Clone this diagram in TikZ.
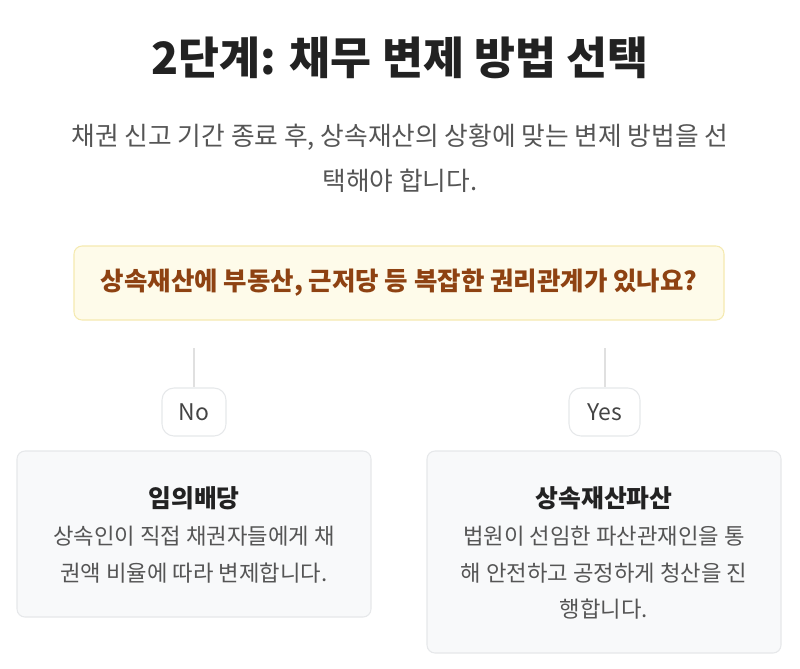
\documentclass[tikz,border=0pt]{standalone}
\usepackage{fontspec}
\setmainfont{Noto Sans CJK KR}
\definecolor{titlec}{HTML}{222222}
\definecolor{subc}{HTML}{555555}
\definecolor{qfill}{HTML}{FEFBEA}
\definecolor{qdraw}{HTML}{F5EAB0}
\definecolor{qtext}{HTML}{8E4212}
\definecolor{rfill}{HTML}{F8F9FA}
\definecolor{rdraw}{HTML}{E6E8EA}
\definecolor{linec}{HTML}{E0E0E0}
\definecolor{lblc}{HTML}{444444}
\tikzset{
  qbox/.style={draw=qdraw, fill=qfill, line width=0.8pt, rounded corners=6pt, minimum width=487.5pt, minimum height=55.5pt, inner sep=0pt},
  lbl/.style={draw=rdraw, fill=white, line width=0.8pt, rounded corners=9pt, minimum height=36pt, inner sep=0pt, font=\fontsize{17.2}{20}\selectfont, text=lblc},
  resbox/.style={draw=rdraw, fill=rfill, line width=0.8pt, rounded corners=6pt, minimum width=265.5pt, inner sep=0pt},
  conn/.style={draw=linec, line width=1.5pt},
  rtitle/.style={font=\fontsize{18.6}{22}\selectfont\bfseries, text=titlec, inner sep=0pt},
  rdesc/.style={font=\fontsize{16.7}{20}\selectfont, text=subc, inner sep=0pt},
}
\begin{document}
\begin{tikzpicture}[x=0.75pt,y=-0.75pt]
\useasboundingbox (0,0) rectangle (800,668);
\fill[white] (0,0) rectangle (800,668);
\node[font=\fontsize{33.4}{38}\selectfont\bfseries, text=titlec, inner sep=0pt] (title) at (400,58) {2단계: 채무 변제 방법 선택};
\node[font=\fontsize{19.3}{22}\selectfont, text=subc, inner sep=0pt] (sub1) at (400,137) {채권 신고 기간 종료 후, 상속재산의 상황에 맞는 변제 방법을 선};
\node[font=\fontsize{19.3}{22}\selectfont, text=subc, inner sep=0pt] (sub2) at (400,181) {택해야 합니다.};
\node[qbox] (q) at (399,283) {};
\node[font=\fontsize{19.1}{22}\selectfont\bfseries, text=qtext, inner sep=0pt] (qt) at (399,283) {상속재산에 부동산, 근저당 등 복잡한 권리관계가 있나요?};
\coordinate (n0) at (194,348);
\coordinate (y0) at (604.5,348);
\node[lbl, minimum width=48pt] (no) at (194,412) {No};
\node[lbl, minimum width=53.25pt] (yes) at (604.5,412) {Yes};
\draw[conn] (n0) -- (no.north);
\draw[conn] (y0) -- (yes.north);
\node[resbox, minimum height=124.5pt] (a) at (194,534) {};
\node[resbox, minimum height=151.5pt] (b) at (604,552) {};
\node[rtitle] (at) at (194,498) {임의배당};
\node[rdesc] (a1) at (194,536) {상속인이 직접 채권자들에게 채};
\node[rdesc] (a2) at (194,573) {권액 비율에 따라 변제합니다.};
\node[rtitle] (bt) at (604,498) {상속재산파산};
\node[rdesc] (b1) at (604,536) {법원이 선임한 파산관재인을 통};
\node[rdesc] (b2) at (604,573) {해 안전하고 공정하게 청산을 진};
\node[rdesc] (b3) at (604,609) {행합니다.};
\end{tikzpicture}
\end{document}
